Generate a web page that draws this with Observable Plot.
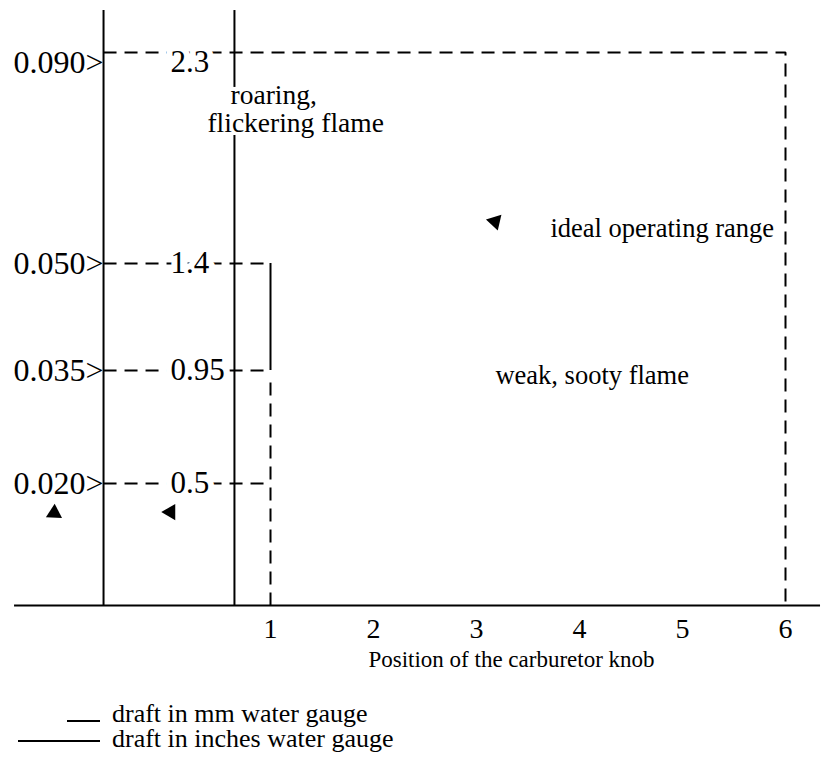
<!DOCTYPE html>
<html>
<head>
<meta charset="utf-8">
<style>
  body { margin: 0; background: #fff; font-family: "Liberation Serif", "Times New Roman", serif; }
  #legend svg { display: block; }
</style>
<script src="https://cdn.jsdelivr.net/npm/d3@7"></script>
<script src="https://cdn.jsdelivr.net/npm/@observablehq/plot@0.6"></script>
</head>
<body>
<div id="chart"></div>
<div id="legend"></div>
<script>
// ---- data ----
const knobTicks = [1, 2, 3, 4, 5, 6];
const mmLevels = [2.3, 1.4, 0.95, 0.5];            // draft, mm water gauge
const mmLabels = ["2.3", "1.4", "0.95", "0.5"];
const inchLabels = ["0.090>", "0.050>", "0.035>", "0.020>"]; // draft, inches water gauge
const guideEnds = [6, 1, 1, 1];                    // knob position where each guide ends
const inchAxisX = -0.621;                          // knob-units position of inch gauge line
const mmAxisX = 0.65;                              // knob-units position of mm gauge line
const axisTop = 2.479;
const mmAxisGap = [1.946, 2.151];
const bracketX = 1, bracketRange = [0.95, 1.4];
const dropX = [6, 1], dropFrom = [2.3, 0.9];
const baselineExtent = [-1.485, 6.34];
const regionText = ["roaring,", "flickering flame", "ideal operating range", "weak, sooty flame"];
const regionX = [0.612, 0.388, 3.718, 3.184];
const regionY = [2.082, 1.959, 1.511, 0.898];
const arrowX = [-1.10, 0.03, 3.18];
const arrowY = [0.379, 0.383, 1.579];
const arrowRotate = [3, 270, 163];
const axisTitle = "Position of the carburetor knob";
const legendLabels = ["draft in mm water gauge", "draft in inches water gauge"];

// ---- derived tables ----
const levels = mmLevels.map((v, i) => ({v, mm: mmLabels[i], inch: inchLabels[i], end: guideEnds[i]}));
const guidePts = [];
levels.forEach((d, i) => {
  guidePts.push({x: inchAxisX, y: d.v, z: i});
  guidePts.push({x: d.end, y: d.v, z: i});
  if (d.end === 6) guidePts.push({x: d.end, y: 0, z: i});
});
const drops = dropX.map((x, i) => ({x, y1: dropFrom[i], y2: 0})).filter(d => d.x !== 6);
const regions = regionText.map((t, i) => ({t, x: regionX[i], y: regionY[i]}));
const arrows = arrowX.map((x, i) => ({x, y: arrowY[i], r: arrowRotate[i]}));
const mmSegments = [{y1: 0, y2: mmAxisGap[0]}, {y1: mmAxisGap[1], y2: axisTop}];

const ink = "#000";
const dash = "13,8";
const halo = {stroke: "#fff", strokeWidth: 12, paintOrder: "stroke", strokeLinejoin: "round"};

const chart = Plot.plot({
  width: 833,
  height: 690,
  marginBottom: 85,
  x: {type: "linear", domain: [0, 6], range: [167, 785]},
  y: {type: "linear", domain: [0, 0.5, 0.95, 1.4, 2.3], range: [605, 483, 370, 263, 52], axis: null},
  style: {fontFamily: "'Liberation Serif', 'Times New Roman', serif", color: ink, background: "#fff", overflow: "visible"},
  marks: [
    // dashed guides
    Plot.line(guidePts, {x: "x", y: "y", z: "z", stroke: ink, strokeWidth: 2, strokeDasharray: dash, strokeLinejoin: "miter", strokeLinecap: "butt"}),
    Plot.ruleX(drops, {x: "x", y1: "y1", y2: "y2", stroke: ink, strokeWidth: 2, strokeDasharray: dash}),
    // mm labels with white halo interrupting dashes
    Plot.text(levels.slice(0, 1), {x: 0.03, y: "v", text: "mm", textAnchor: "start", dy: 10, fontSize: 31, fill: ink, ...halo}),
    Plot.text(levels.slice(1), {x: 0.03, y: "v", text: "mm", textAnchor: "start", fontSize: 31, fill: ink, ...halo}),
    // inch labels
    Plot.text(levels.slice(0, 1), {x: inchAxisX, y: "v", text: "inch", textAnchor: "end", dy: 10, fontSize: 32, fill: ink}),
    Plot.text(levels.slice(1), {x: inchAxisX, y: "v", text: "inch", textAnchor: "end", fontSize: 32, fill: ink}),
    // solid gauge lines
    Plot.ruleX([inchAxisX], {x: d => d, y1: 0, y2: axisTop, stroke: ink, strokeWidth: 2}),
    Plot.ruleX(mmSegments, {x: mmAxisX, y1: "y1", y2: "y2", stroke: ink, strokeWidth: 2}),
    Plot.ruleX([bracketX], {x: d => d, y1: bracketRange[0], y2: bracketRange[1], stroke: ink, strokeWidth: 2}),
    // baseline
    Plot.ruleY([0], {y: d => d, x1: baselineExtent[0], x2: baselineExtent[1], stroke: ink, strokeWidth: 2}),
    // x axis tick labels
    Plot.axisX({ticks: knobTicks, tickSize: 0, tickPadding: 13, fontSize: 28, label: null, tickFormat: d => String(d)}),
    Plot.text([axisTitle], {x: 3.34, y: -0.253, text: d => d, lineAnchor: "bottom", fontSize: 23, fill: ink}),
    // region annotations
    Plot.text(regions.slice(0, 2), {x: "x", y: "y", text: "t", textAnchor: "start", lineAnchor: "bottom", fontSize: 27.5, fill: ink}),
    Plot.text(regions.slice(2), {x: "x", y: "y", text: "t", textAnchor: "start", lineAnchor: "bottom", fontSize: 26.5, fill: ink}),
    // arrowheads
    Plot.dot(arrows, {x: "x", y: "y", rotate: "r", symbol: "triangle", r: 6, fill: ink, stroke: "none"})
  ]
});
document.getElementById("chart").appendChild(chart);

// legend (below the SVG)
const lg = d3.select("#legend").append("svg").attr("width", 833).attr("height", 78)
  .style("font-family", "'Liberation Serif', 'Times New Roman', serif");
const swatch = [[67, 100, 31], [18, 100, 51]];
const textBase = [32, 57];
legendLabels.forEach((t, i) => {
  lg.append("line").attr("x1", swatch[i][0]).attr("x2", swatch[i][1]).attr("y1", swatch[i][2]).attr("y2", swatch[i][2])
    .attr("stroke", ink).attr("stroke-width", 2);
  lg.append("text").attr("x", 112).attr("y", textBase[i]).attr("font-size", 26).attr("fill", ink).text(t);
});
</script>
</body>
</html>
